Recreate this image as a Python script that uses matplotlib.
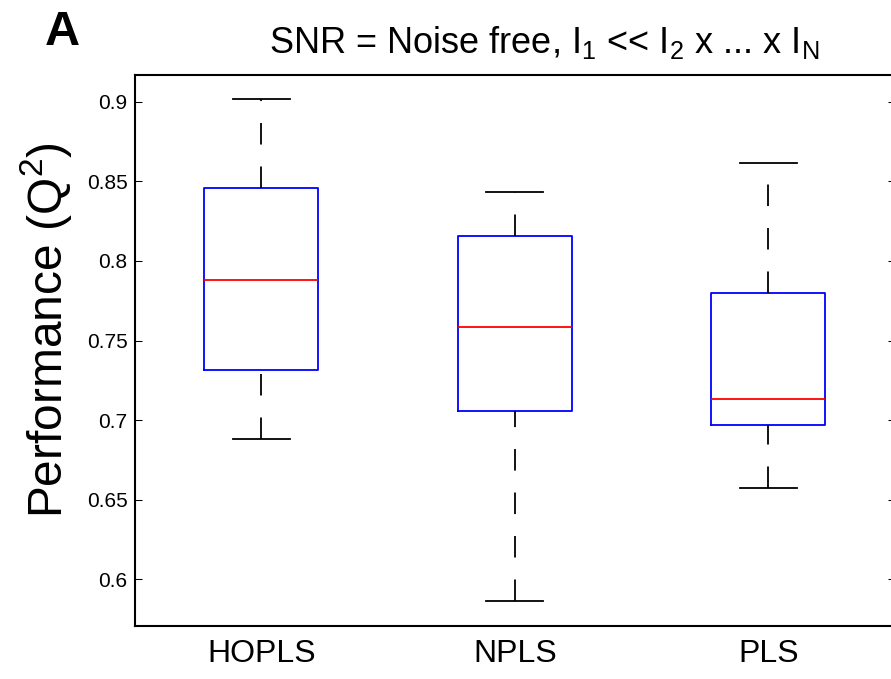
import matplotlib
matplotlib.use("Agg")
import matplotlib.pyplot as plt
import numpy as np

# values (box stats per method)
methods = ["HOPLS", "NPLS", "PLS"]
whisker_low = [0.688, 0.5866, 0.6573]
q1 = [0.7315, 0.7057, 0.6971]
median = [0.788, 0.7587, 0.7133]
q3 = [0.846, 0.8156, 0.7798]
whisker_high = [0.9015, 0.8435, 0.8613]
yticks = [0.6, 0.65, 0.7, 0.75, 0.8, 0.85, 0.9]
ytick_labels = ["0.6", "0.65", "0.7", "0.75", "0.8", "0.85", "0.9"]

plt.rcParams["font.family"] = ["Liberation Sans", "DejaVu Sans"]
plt.rcParams["mathtext.fontset"] = "custom"
plt.rcParams["mathtext.rm"] = "Liberation Sans"
plt.rcParams["mathtext.default"] = "rm"
plt.rcParams["lines.scale_dashes"] = False

fig = plt.figure(figsize=(8.91, 6.79), dpi=100)
ax = fig.add_axes([134.5 / 891, 53 / 679, 760.5 / 891, 551 / 679])

stats = []
for i in range(len(methods)):
    stats.append({"whislo": whisker_low[i], "q1": q1[i], "med": median[i],
                  "q3": q3[i], "whishi": whisker_high[i], "fliers": []})

lw = 1.3
parts = ax.bxp(stats, positions=[1, 2, 3], widths=0.45, showfliers=False,
               boxprops=dict(color="#0000ff", linewidth=lw),
               medianprops=dict(color="#ff0000", linewidth=lw),
               whiskerprops=dict(color="black", linewidth=lw, linestyle=(0, (15.5, 15.8))),
               capprops=dict(color="black", linewidth=lw))

# matlab draws both whiskers bottom->top, so flip the lower ones
for line in parts["whiskers"][::2]:
    x, y = line.get_data()
    line.set_data(np.asarray(x)[::-1], np.asarray(y)[::-1])

ax.set_xlim(0.5, 3.5)
ax.set_ylim(0.5707, 0.9168)
ax.set_xticks([1, 2, 3])
ax.set_xticklabels(methods, fontsize=23)
ax.set_yticks(yticks)
ax.set_yticklabels(ytick_labels, fontsize=15)
ax.tick_params(axis="x", length=0, pad=9)
ax.tick_params(axis="y", direction="in", length=5, width=0.75, pad=5, right=True)
for s in ax.spines.values():
    s.set_linewidth(1.5)

fig.text(46 / 891, 0.514, "Performance (Q$^2$)", rotation=90, fontsize=34.5,
         ha="center", va="center")
fig.text(544 / 891, 1 - 53.3 / 679, r"SNR = Noise free, I$_1$ << I$_2$ x ... x I$_N$",
         fontsize=26, ha="center", va="baseline")
fig.text(45 / 891, 1 - 45 / 679, "A", fontsize=35, fontweight="bold", va="baseline")

fig.savefig("out.png", dpi=100)
